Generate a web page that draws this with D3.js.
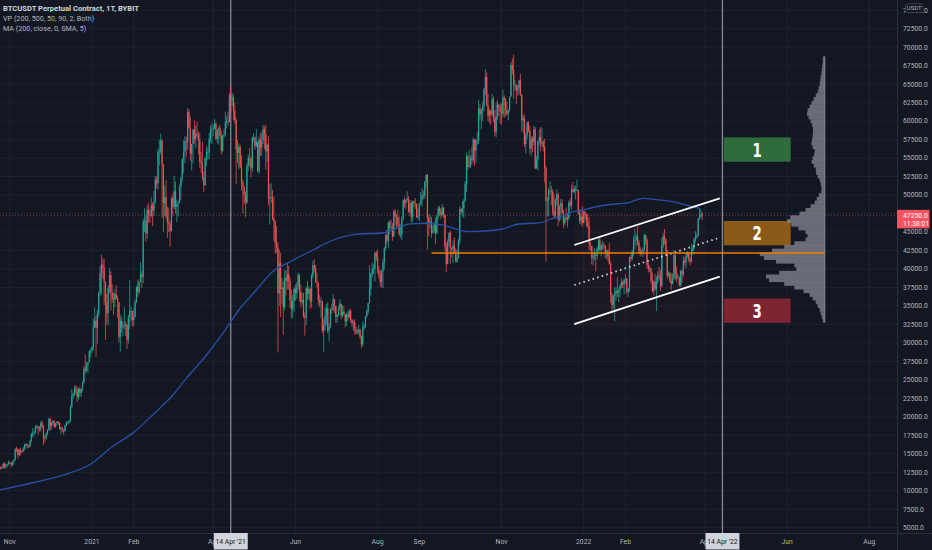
<!DOCTYPE html>
<html><head><meta charset="utf-8">
<script src="https://cdn.jsdelivr.net/npm/d3@7"></script>
<style>html,body{margin:0;padding:0;background:#131722;overflow:hidden}svg{display:block}</style>
</head><body><svg id="c" width="932" height="550"></svg>
<script>
// ---------------- DATA (prices in thousands of USDT) ----------------
const firstOpen = 13.10;
const monthStarts = ["2020-10-25","2020-11-01","2020-12-01","2021-01-01","2021-02-01","2021-03-01","2021-04-01","2021-05-01","2021-06-01","2021-07-01","2021-08-01","2021-09-01","2021-10-01","2021-11-01","2021-12-01","2022-01-01","2022-02-01","2022-03-01"];
const closes = [
[13.03,13.07,13.65,13.28,13.46,13.56,13.80],
[13.76,13.55,14.03,14.15,15.59,15.58,14.83,15.48,15.33,15.30,15.70,16.28,16.32,16.07,15.96,16.72,17.65,17.80,17.82,18.65,18.70,18.43,18.37,19.16,18.74,17.15,17.13,17.72,18.18,19.70],
[18.77,19.20,19.44,18.65,19.15,19.36,19.17,18.32,18.55,18.26,18.04,18.80,19.17,19.27,19.44,21.35,22.80,23.10,23.84,23.47,22.72,23.82,23.24,23.73,24.71,26.49,26.28,27.08,27.38,28.88,28.99],
[29.37,32.19,33.00,32.00,33.99,36.80,39.43,40.60,40.20,38.30,35.50,34.00,37.40,39.15,36.80,36.00,35.80,36.60,36.00,35.50,30.80,33.00,32.10,32.30,32.40,32.50,30.40,33.40,34.30,34.30,33.10],
[33.5,35.5,37.6,36.9,38.3,39.3,38.9,46.4,46.5,44.8,48.0,47.4,47.2,48.6,47.9,49.1,52.1,51.6,55.9,55.9,57.4,54.1,48.9,49.7,47.1,46.3,46.1,45.1],
[49.6,48.4,50.5,48.4,48.8,48.9,51.2,52.3,54.9,55.9,57.3,57.2,61.2,59.0,55.6,56.9,58.9,57.6,58.3,58.1,57.4,54.5,54.3,52.3,51.3,55.0,55.8,55.8,57.6,58.8,58.9],
[59.0,59.7,57.6,58.8,59.0,58.0,56.0,58.1,58.2,59.8,60.0,59.9,63.5,62.9,63.2,61.4,60.1,56.2,55.7,56.5,53.8,51.7,51.1,50.1,49.0,54.0,55.0,54.9,53.6,57.8],
[57.8,56.6,57.2,53.2,57.5,56.4,57.4,58.9,58.3,55.9,56.8,49.5,49.7,49.7,46.8,46.4,43.5,42.9,36.7,40.8,37.3,37.5,34.8,38.8,38.4,39.3,38.4,35.7,34.6,35.7,37.3],
[36.7,37.6,39.2,36.9,35.5,35.8,33.6,33.4,37.4,36.7,37.3,35.6,39.1,40.5,40.1,38.3,38.1,35.8,35.5,35.6,31.6,32.5,33.7,34.7,31.6,32.2,34.6,34.5,35.9,35.0],
[33.5,33.8,34.7,35.3,33.7,34.2,33.9,32.9,33.8,33.5,34.3,33.1,32.7,32.8,31.8,31.4,31.5,31.8,30.8,29.8,32.1,32.3,33.6,34.3,35.4,37.3,39.4,40.0,40.0,42.2,41.6],
[39.9,39.2,38.2,39.7,40.9,42.8,44.6,43.8,46.3,45.6,45.6,44.4,47.8,47.1,47.0,46.0,44.7,44.7,46.8,49.3,48.9,49.3,49.5,47.7,48.9,47.0,49.1,48.9,48.8,47.0,47.2],
[48.8,49.3,50.0,49.9,51.8,52.7,46.9,46.1,46.4,44.9,45.2,46.1,44.9,47.1,48.2,47.8,47.3,48.3,47.3,43.0,40.7,43.6,44.9,42.8,42.7,43.2,42.2,41.0,41.5,43.8],
[48.1,47.7,48.2,49.2,51.5,55.3,53.8,53.9,55.0,54.7,57.5,56.0,57.4,57.4,61.7,60.9,61.5,62.0,64.3,66.0,62.2,60.7,61.4,60.9,63.0,60.4,58.5,60.6,62.2,61.9,61.3],
[61.0,63.2,62.9,61.4,61.0,61.5,63.3,67.6,66.9,64.9,64.9,64.2,64.4,65.5,63.6,60.1,60.4,56.9,58.1,59.8,58.7,56.3,57.6,57.2,58.9,53.6,54.8,57.3,57.8,57.0],
[57.2,56.5,53.6,49.2,49.4,50.6,50.6,50.5,47.7,47.2,49.4,50.1,46.7,48.4,48.9,47.6,46.2,46.9,46.7,46.9,49.0,48.6,50.8,50.4,50.8,50.7,50.7,47.5,46.5,47.1,46.2],
[47.7,47.3,46.4,45.8,43.4,43.1,41.5,41.7,41.9,41.8,42.7,43.9,42.6,43.1,43.2,43.1,42.2,42.4,41.7,40.7,36.5,35.1,36.3,36.7,37.0,36.8,37.2,37.7,38.2,37.9,38.5],
[38.7,36.9,37.3,41.6,41.4,42.4,43.8,44.0,44.4,43.6,42.4,42.2,42.1,42.5,44.6,43.9,40.5,40.0,40.1,38.4,37.0,38.3,37.3,38.3,39.2,39.1,37.7,43.2],
[44.4,44.0,42.5,39.1,39.4,38.4,38.0,38.7,41.9,39.4,38.8,38.8,37.8,39.7,39.3,41.1,40.9,41.8,42.2,41.3,41.0,42.4,42.9,44.0,44.3,44.5,46.8,47.1,47.4,47.25]
];
const highs = [
[13.35,13.24,13.79,13.86,13.64,13.68,14.10],
[13.89,13.82,14.07,14.26,15.75,15.97,15.77,15.66,15.83,15.47,15.96,16.34,16.48,16.32,16.16,16.87,17.84,18.48,18.15,18.82,18.97,18.70,18.77,19.42,19.48,18.90,17.45,17.87,18.35,19.86],
[19.92,19.30,19.57,19.50,19.17,19.42,19.40,19.29,18.63,18.56,18.28,18.95,19.40,19.35,19.57,21.56,23.77,23.28,24.20,24.30,24.10,23.85,24.13,23.80,24.79,26.87,28.42,27.40,27.41,28.99,29.30],
[29.6,33.3,34.8,33.6,34.5,36.9,40.4,41.95,41.4,41.4,38.3,36.6,37.8,40.1,39.7,37.95,36.8,37.3,37.8,36.4,35.55,33.8,33.5,32.9,34.8,32.9,32.5,33.8,38.5,34.9,34.3],
[34.7,35.9,37.7,38.6,38.3,40.9,39.7,46.8,48.2,47.3,48.6,48.9,48.1,49.7,49.0,50.6,52.6,52.5,56.3,57.5,58.3,57.5,54.2,51.3,52.0,48.4,48.3,46.6],
[49.8,50.2,52.6,51.8,49.4,49.2,51.4,52.4,54.9,57.4,58.0,57.9,61.8,61.6,60.6,56.9,58.9,60.1,59.4,59.9,58.6,58.4,55.8,57.2,53.2,55.1,56.6,56.4,58.4,59.4,59.8],
[59.5,60.3,59.8,58.9,59.3,59.5,58.7,58.2,58.9,61.3,60.7,61.2,63.8,64.8,63.8,63.6,62.5,60.4,57.5,57.0,56.8,55.4,52.1,51.2,50.5,54.3,55.5,56.4,55.2,57.9],
[58.4,57.9,58.9,57.2,57.9,58.4,58.6,59.5,59.3,59.5,57.0,58.0,51.5,51.6,50.7,49.8,46.6,45.8,43.6,42.6,42.2,38.8,38.3,39.9,39.8,40.8,40.4,38.9,37.2,36.5,37.5],
[37.9,38.2,39.5,39.3,37.9,36.8,36.8,34.1,37.6,38.4,37.7,37.4,39.4,41.1,41.3,40.5,39.5,38.2,36.5,36.1,35.7,33.3,34.8,35.3,35.5,32.7,34.7,35.2,36.6,36.0],
[35.0,33.9,35.0,35.9,35.3,35.1,35.0,33.9,34.1,34.3,34.6,34.6,33.3,33.1,33.2,32.2,31.9,32.4,31.9,31.0,32.9,32.6,33.6,34.5,35.4,40.5,39.5,40.9,40.6,42.3,42.4],
[42.6,40.4,39.8,39.9,41.4,43.0,44.7,45.3,46.4,46.6,46.7,46.2,48.0,48.1,47.4,48.0,47.1,46.0,47.1,49.4,49.8,49.5,50.5,49.9,49.3,49.3,49.2,49.3,49.6,48.9,48.2],
[48.9,50.4,51.0,50.6,51.9,52.8,52.9,47.4,47.3,47.0,45.9,46.4,46.9,47.3,48.5,48.5,48.2,48.8,48.4,47.4,43.6,44.0,44.9,45.2,42.9,43.9,44.3,42.8,42.6,44.1],
[48.5,48.3,49.2,49.5,51.9,55.7,55.3,56.1,55.4,56.5,57.8,57.6,57.6,58.5,62.9,62.3,61.7,62.6,64.5,67.0,66.6,63.7,61.7,61.5,63.7,63.3,61.5,62.5,62.9,62.3,62.4],
[62.4,64.3,63.5,63.1,62.6,61.6,63.3,68.0,68.5,69.0,65.6,65.0,64.9,65.6,66.4,63.6,60.8,60.9,58.4,59.9,60.0,59.3,58.0,57.9,59.4,59.2,55.3,57.4,58.9,59.2],
[59.1,57.4,57.6,53.9,49.7,51.0,51.9,51.2,50.8,50.1,49.5,50.8,50.3,48.7,49.5,49.4,48.0,47.3,48.3,47.6,49.3,49.6,51.4,51.8,51.2,51.3,52.1,50.7,48.1,47.9,48.5],
[47.9,47.9,47.5,47.5,47.0,43.7,43.1,42.3,42.8,42.2,43.0,44.3,44.4,43.4,43.8,43.5,43.2,42.6,42.7,43.5,41.1,36.8,36.5,37.5,37.5,38.9,37.3,38.0,38.7,38.4,38.7],
[39.3,38.8,37.4,41.7,41.9,42.6,44.5,45.5,44.8,45.8,43.9,43.0,42.7,42.9,44.8,44.6,44.2,40.9,40.5,40.1,39.5,38.4,39.3,39.0,39.7,40.3,39.9,44.2],
[44.9,45.4,44.1,42.6,39.7,39.6,39.4,39.4,42.6,42.0,40.3,39.3,39.0,39.9,39.9,41.7,41.5,42.3,42.4,42.3,41.6,43.4,43.0,44.2,45.1,44.8,46.9,48.2,48.1,47.7]
];
const lows = [
[12.90,12.88,13.06,12.95,12.99,13.12,13.42],
[13.60,13.20,13.30,13.52,14.09,15.20,14.34,14.70,14.80,15.07,15.28,15.43,15.95,15.70,15.78,15.88,16.56,17.20,17.35,17.75,18.40,17.60,18.00,18.02,18.50,16.20,16.50,16.90,17.55,18.18],
[18.10,18.33,18.90,18.57,18.50,18.86,18.90,18.20,17.65,17.90,17.57,18.02,18.73,19.00,19.05,19.30,21.23,22.36,22.78,23.06,22.00,22.35,22.65,22.70,23.45,24.50,25.85,26.10,25.88,27.35,28.00],
[28.6,29.0,32.0,28.1,29.9,33.5,36.3,36.5,38.7,35.1,30.4,32.5,32.4,36.7,34.4,35.4,33.8,34.8,35.9,33.4,30.1,28.8,31.4,30.9,31.9,30.9,29.2,29.9,31.9,32.9,32.2],
[32.3,33.4,35.4,36.2,36.6,38.2,37.4,38.1,45.0,43.7,44.1,46.3,46.2,47.0,45.8,47.1,48.9,50.9,50.7,54.0,55.5,46.9,45.0,47.1,46.7,44.2,45.0,43.0],
[45.1,47.1,48.1,47.5,46.3,47.1,48.9,49.3,51.8,53.0,54.3,55.2,56.1,59.0,54.6,53.3,54.3,57.0,56.3,57.8,55.5,53.7,53.0,52.0,50.4,51.3,53.9,54.7,54.9,57.1,56.9],
[58.0,58.9,57.4,57.0,56.8,57.7,55.5,55.8,57.7,57.9,59.0,59.4,59.8,61.3,62.0,60.1,59.6,51.5,54.3,53.5,53.6,50.6,47.5,48.8,47.0,48.8,53.2,53.9,52.4,53.1],
[57.1,56.1,56.5,53.1,52.9,55.3,55.3,56.9,56.2,53.4,54.5,48.6,46.0,48.9,46.6,43.8,42.1,42.2,28.7,35.0,33.5,35.3,31.1,34.4,36.4,37.2,37.2,34.7,33.4,33.4,34.2],
[35.7,35.9,37.2,35.6,34.8,35.2,33.4,31.0,32.4,35.8,35.9,34.6,34.8,38.7,39.5,38.1,37.4,35.1,34.8,33.4,31.3,28.8,31.7,32.3,31.3,30.2,32.0,33.9,34.3,34.0],
[32.7,32.7,33.6,34.4,33.2,33.5,33.8,32.1,32.3,33.0,33.3,32.7,32.2,31.6,31.1,31.1,31.2,31.1,30.5,29.3,29.5,31.7,32.0,33.4,33.9,35.3,36.4,38.8,39.3,38.3,41.1],
[39.4,38.7,37.6,37.5,37.4,39.9,42.5,43.4,42.8,44.7,45.4,43.8,44.3,45.9,45.5,45.7,44.4,44.2,43.9,46.6,48.3,48.1,49.1,47.6,47.2,46.3,46.4,48.4,48.1,46.9,46.7],
[46.5,48.6,48.4,49.5,49.5,50.9,42.6,44.4,45.5,44.2,44.8,44.8,43.4,44.7,46.7,47.2,46.8,47.1,46.9,42.5,39.6,40.6,43.1,40.7,41.6,40.8,42.1,40.9,40.8,41.4],
[43.3,47.4,47.1,46.9,49.1,50.4,53.4,53.7,53.7,54.1,54.4,53.9,54.3,56.8,56.9,60.1,58.9,60.0,61.3,63.5,62.0,60.0,59.7,59.5,60.7,59.8,58.0,57.8,60.2,60.7,59.6],
[59.5,60.6,60.4,60.7,60.7,60.1,61.3,63.3,66.3,63.0,64.1,62.3,63.4,63.6,63.4,58.6,58.4,56.5,55.6,57.5,58.5,55.6,55.3,55.8,56.7,53.5,53.6,53.3,56.7,55.9],
[56.5,55.9,51.7,41.0,47.1,47.1,50.0,48.6,47.3,46.8,46.9,48.6,45.8,46.4,46.6,47.5,45.5,45.9,46.4,45.6,46.6,48.4,48.0,50.4,50.2,49.4,50.5,47.3,46.1,46.0,45.7],
[46.2,46.7,45.7,45.5,42.5,42.5,40.6,40.5,41.2,39.7,41.3,42.4,42.3,41.7,42.6,42.7,41.5,41.3,41.1,40.6,35.4,34.0,34.6,32.9,35.7,36.2,35.5,36.2,37.4,37.4,36.6],
[38.0,36.6,36.2,36.9,41.0,41.1,41.7,42.7,43.1,43.2,42.0,41.7,41.9,41.6,42.4,43.3,40.1,39.5,39.6,38.0,36.8,36.4,37.0,34.3,38.0,38.6,37.0,37.5],
[42.8,43.3,41.9,38.6,38.9,38.1,37.2,37.9,38.6,38.5,38.2,38.7,37.6,37.6,38.1,38.9,40.5,40.1,41.5,40.9,40.5,40.9,41.9,42.6,43.6,44.1,44.4,46.6,46.9,46.6]
];
// MA(200)
const maDates = ["2020-10-24","2020-11-18","2020-12-13","2020-12-30","2021-01-16","2021-01-31","2021-02-15","2021-03-02","2021-03-12","2021-03-27","2021-04-09","2021-04-20","2021-05-03","2021-05-15","2021-05-28","2021-06-14","2021-06-26","2021-07-15","2021-08-06","2021-08-15","2021-08-25","2021-09-06","2021-09-18","2021-10-01","2021-10-08","2021-11-01","2021-11-14","2021-11-29","2021-12-09","2021-12-16","2021-12-24","2021-12-29","2022-01-05","2022-01-18","2022-02-04","2022-02-14","2022-02-21","2022-03-08","2022-03-18","2022-03-28"];
const maValues = [10.09,11.08,12.26,13.48,15.95,17.76,20.24,22.95,25.2,28.36,31.51,34.45,37.15,39.63,40.98,42.56,43.68,44.69,44.9,45.5,46.1,46.18,45.95,45.27,45.04,45.37,46.08,46.22,46.85,47.07,47.75,47.88,48.2,48.65,49.02,49.56,49.46,49.1,48.65,48.2];
// Volume profile rows (price in k, relative volume)
const vpPrices = [68.5,68,67.5,67,66.5,66,65.5,65,64.5,64,63.5,63,62.5,62,61.5,61,60.5,60,59.5,59,58.5,58,57.5,57,56.5,56,55.5,55,54.5,54,53.5,53,52.5,52,51.5,51,50.5,50,49.5,49,48.5,48,47.5,47,46.5,46,45.5,45,44.5,44,43.5,43,42.5,42,41.5,41,40.5,40,39.5,39,38.5,38,37.5,37,36.5,36,35.5,35,34.5,34,33.5,33];
const vpVolumes = [2,2,2.5,3,3.3,4,4.5,5,6,7,9,11,13,15,17,17.5,16,14,12.5,11.7,11.7,12,12.5,13.3,12,10,10.5,12,13,11,9,8.5,7,5,4,3.3,3.5,6,8,10,14,19,25,34,37,33,26,19,17,19,30,40,52,64,60,48,30,28,45,58,55,40,30,21,15,12,9,7,5,4,3,2];
// Price axis ticks, time axis ticks
const priceTicks = d3.range(5000, 75001, 2500);
const timeTickDates = ["2020-11-01","2021-01-01","2021-02-01","2021-04-01","2021-06-01","2021-08-01","2021-09-01","2021-11-01","2022-01-01","2022-02-01","2022-04-01","2022-06-01","2022-08-01"];
const timeTickLabels = ["Nov","2021","Feb","Apr","Jun","Aug","Sep","Nov","2022","Feb","Apr","Jun","Aug"];
// Drawings
const markerDates = ["2021-04-14","2022-04-14"];
const markerLabels = ["14 Apr '21","14 Apr '22"];
const channelUpper = [["2021-12-25",43.24],["2022-04-12",49.56]];
const channelMid   = [["2021-12-25",37.83],["2022-04-12",44.23]];
const channelLower = [["2021-12-25",32.55],["2022-04-12",38.95]];
const supportLine  = [["2021-09-10",42.16],["2022-06-29",42.16]];
const zoneBox = {from:"2021-12-25", to:"2022-03-31", top:47.4, bottom:31.8};
const targetLabels = ["1","2","3"];
const targetTops = [57.8,46.5,36.0];
const targetBottoms = [54.5,43.2,32.7];
const targetColors = ["#2f6b3b","#8c5a18","#7e2533"];
const targetStart = "2022-04-15", targetEnd = "2022-06-03T16:00";
const vpAnchor = "2022-06-29";
const lastPrice = 47250, countdown = "11:38:01";
const legendLines = ["BTCUSDT Perpetual Contract, 1T, BYBIT","VP (200, 500, 50, 90, 2, Both)","MA (200, close, 0, SMA, 5)"];

// ---------------- CHART ----------------
const W = 932, H = 550, plotR = 897, plotB = 533;
const svg = d3.select("#c");
const D = s => new Date(s.length > 10 ? s + "Z" : s + "T00:00:00Z");
const x = d3.scaleUtc().domain([D("2021-01-01"), D("2022-01-01")]).range([92, 583.7]);
const y = d3.scaleLinear().domain([5000, 72500]).range([527.7, 28.7]);
const K = v => v * 1000;

svg.append("rect").attr("width", W).attr("height", H).attr("fill", "#131722");
svg.append("defs").append("clipPath").attr("id","plot").append("rect").attr("x",0).attr("y",0).attr("width",plotR).attr("height",plotB);
const g = svg.append("g").attr("clip-path","url(#plot)");

// grid
g.selectAll(".hg").data(priceTicks).join("line").attr("x1",0).attr("x2",plotR)
  .attr("y1",d=>y(d)).attr("y2",d=>y(d)).attr("stroke","#1d2230").attr("stroke-width",1);
g.selectAll(".vg").data(timeTickDates).join("line").attr("y1",0).attr("y2",plotB)
  .attr("x1",d=>x(D(d))).attr("x2",d=>x(D(d))).attr("stroke","#1d2230").attr("stroke-width",1);

// zone background
g.append("rect").attr("x", x(D(zoneBox.from))).attr("width", x(D(zoneBox.to)) - x(D(zoneBox.from)))
  .attr("y", y(K(zoneBox.top))).attr("height", y(K(zoneBox.bottom)) - y(K(zoneBox.top)))
  .attr("fill", "rgba(242,54,69,0.045)");

// marker vertical lines
g.selectAll(".mk").data(markerDates).join("line").attr("x1",d=>x(D(d))).attr("x2",d=>x(D(d)))
  .attr("y1",0).attr("y2",plotB).attr("stroke","#8e919a").attr("stroke-width",1.2);

// price line
g.append("line").attr("x1",0).attr("x2",plotR).attr("y1",y(lastPrice)).attr("y2",y(lastPrice))
  .attr("stroke","#f7525f").attr("stroke-opacity",0.5).attr("stroke-dasharray","1,2");

// candles
const candles = [];
let prev = firstOpen;
monthStarts.forEach((ms, m) => {
  const d0 = D(ms);
  closes[m].forEach((c, j) => {
    const date = new Date(d0.getTime() + j * 864e5);
    const o = prev;
    const h = Math.max(highs[m][j] ?? c, o, c), l = Math.min(lows[m][j] ?? c, o, c);
    candles.push({date, o: K(o), h: K(h), l: K(l), c: K(c)});
    prev = c;
  });
});
const up = "#26a69a", dn = "#ef5350";
const cg = g.append("g");
cg.selectAll("line").data(candles).join("line")
  .attr("x1", d => x(d.date)).attr("x2", d => x(d.date))
  .attr("y1", d => y(d.h)).attr("y2", d => y(d.l))
  .attr("stroke", d => d.c >= d.o ? up : dn).attr("stroke-width", 0.75);
cg.selectAll("rect").data(candles).join("rect")
  .attr("x", d => x(d.date) - 0.6).attr("width", 1.2)
  .attr("y", d => y(Math.max(d.o, d.c)))
  .attr("height", d => Math.max(0.8, Math.abs(y(d.o) - y(d.c))))
  .attr("fill", d => d.c >= d.o ? up : dn);

// MA line
const maLine = d3.line().x(d => x(D(d[0]))).y(d => y(K(d[1]))).curve(d3.curveMonotoneX);
g.append("path").datum(maDates.map((d,i)=>[d, maValues[i]])).attr("d", maLine)
  .attr("fill","none").attr("stroke","#2a4fa8").attr("stroke-width",1.3);

const pl = d3.line().x(d => x(D(d[0]))).y(d => y(K(d[1])));

// channel
g.append("path").datum(channelUpper).attr("d", pl).attr("stroke","#ffffff").attr("stroke-width",1.8).attr("fill","none");
g.append("path").datum(channelLower).attr("d", pl).attr("stroke","#ffffff").attr("stroke-width",1.8).attr("fill","none");
g.append("path").datum(channelMid).attr("d", pl).attr("stroke","#c9ccd3").attr("stroke-width",1.8)
  .attr("stroke-dasharray","1.6,3.2").attr("fill","none");

// target boxes
targetLabels.forEach((t, i) => {
  const x0 = x(D(targetStart)), x1 = x(D(targetEnd));
  const y0 = y(K(targetTops[i])), y1 = y(K(targetBottoms[i]));
  g.append("rect").attr("x", x0).attr("y", y0).attr("width", x1 - x0).attr("height", y1 - y0).attr("fill", targetColors[i]);
  g.append("text").attr("transform", `translate(${(x0 + x1) / 2},${(y0 + y1) / 2 + 7}) scale(0.78,1)`)
    .attr("text-anchor","middle")
    .attr("fill","#ffffff").attr("font-family","'DejaVu Sans Condensed','DejaVu Sans',sans-serif")
    .attr("font-weight","bold").attr("font-size",19).text(t);
});

// volume profile
const vpX = x(D(vpAnchor));
const vw = d3.scaleLinear().domain([0, d3.max(vpVolumes)]).range([0, 65]);
const rowH = y(0) - y(500);
g.selectAll(".vp").data(vpPrices).join("rect")
  .attr("x", (d,i) => vpX - vw(vpVolumes[i])).attr("width", (d,i) => vw(vpVolumes[i]))
  .attr("y", d => y(K(d)) - rowH/2).attr("height", rowH + 0.2)
  .attr("fill", "#8f929b").attr("fill-opacity", 0.7);
g.append("line").attr("x1", vpX).attr("x2", vpX).attr("y1", y(K(vpPrices[0])) - rowH/2).attr("y2", y(K(vpPrices[vpPrices.length-1])) + rowH/2)
  .attr("stroke","#9598a1").attr("stroke-opacity",0.8).attr("stroke-width",1);
// support line over the profile
g.append("path").datum(supportLine).attr("d", pl).attr("stroke","#f57c00").attr("stroke-width",1.5).attr("fill","none");

// axes separators
svg.append("line").attr("x1",plotR+0.5).attr("x2",plotR+0.5).attr("y1",0).attr("y2",H).attr("stroke","#2a2e39");
svg.append("line").attr("x1",0).attr("x2",W).attr("y1",plotB+0.5).attr("y2",plotB+0.5).attr("stroke","#2a2e39");

// price axis labels
const font = "Roboto, 'Noto Sans', sans-serif";
svg.selectAll(".pl").data(priceTicks).join("text").attr("x", 903).attr("y", d => y(d)).attr("dy","0.35em")
  .attr("fill","#b2b5be").attr("font-family",font).attr("font-size",6.8).text(d => d.toFixed(1));

// USDT badge
svg.append("rect").attr("x",905.5).attr("y",3.8).attr("width",17.5).attr("height",8.8).attr("rx",2)
  .attr("fill","#131722").attr("stroke","#434651").attr("stroke-width",0.8);
svg.append("text").attr("x",914.2).attr("y",8.3).attr("dy","0.35em").attr("text-anchor","middle")
  .attr("fill","#b2b5be").attr("font-family",font).attr("font-size",6).text("USDT");

// last price label
svg.append("rect").attr("x",plotR).attr("y",y(lastPrice)-5.5).attr("width",32.5).attr("height",18.5).attr("fill","#f7525f");
svg.append("text").attr("x",903).attr("y",y(lastPrice)).attr("dy","0.35em").attr("fill","#ffffff")
  .attr("font-family",font).attr("font-size",6.8).text(lastPrice.toFixed(1));
svg.append("text").attr("x",903).attr("y",y(lastPrice)+8).attr("dy","0.35em").attr("fill","#ffffff")
  .attr("font-family",font).attr("font-size",6.8).text(countdown);

// time axis labels
svg.selectAll(".tl").data(timeTickDates).join("text").attr("x", d => x(D(d))).attr("y", 542).attr("dy","0.35em")
  .attr("text-anchor","middle").attr("fill","#b2b5be").attr("font-family",font).attr("font-size",6.8)
  .text((d,i) => timeTickLabels[i]);

// marker labels
markerDates.forEach((d,i) => {
  const mx = x(D(d));
  svg.append("rect").attr("x", mx - 17).attr("y", 533).attr("width", 34).attr("height", 16.5).attr("fill", "#d1d4dc");
  svg.append("text").attr("x", mx).attr("y", 542).attr("dy","0.35em").attr("text-anchor","middle")
    .attr("fill","#131722").attr("font-family",font).attr("font-size",6.8).text(markerLabels[i]);
});

// legend
legendLines.forEach((t,i) => {
  svg.append("text").attr("x",3).attr("y",10.5 + i*10).attr("fill", i === 0 ? "#d1d4dc" : "#b2b5be")
    .attr("font-family",font).attr("font-size", i === 0 ? 7.6 : 7.2).attr("font-weight", i === 0 ? 700 : 400).text(t);
});
</script>
</body></html>
